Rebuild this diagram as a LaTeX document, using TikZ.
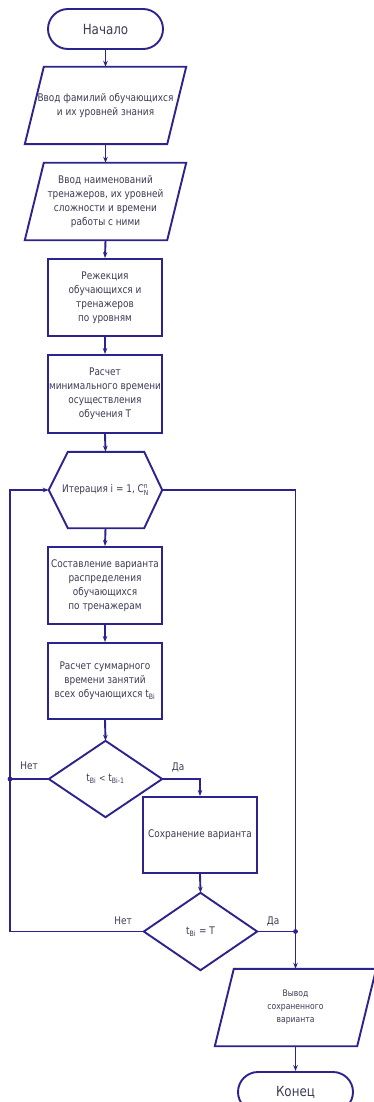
\documentclass[tikz,border=0pt]{standalone}
\usepackage{fontspec}
\setmainfont[FakeStretch=0.85]{DejaVu Sans}
\usetikzlibrary{arrows.meta,calc}
\definecolor{ln}{RGB}{45,35,140}
\definecolor{tx}{RGB}{60,60,85}
\newcommand{\smallscript}[1]{\mbox{\fontsize{7}{7}\selectfont #1}}
\begin{document}
\begin{tikzpicture}[x=1pt,y=-1pt,
  line/.style={draw=ln, line width=1.9pt},
  arr/.style={line, -{Stealth[length=6pt,width=4.5pt]}},
  box/.style={line, rectangle, minimum width=114pt, minimum height=77pt, inner sep=1pt, align=center, text=tx, font=\fontsize{10.5}{14}\selectfont},
  ghost/.style n args={2}{rectangle, minimum width=#1, minimum height=#2, inner sep=0pt, align=center, text=tx, font=\fontsize{10.5}{14}\selectfont},
  term/.style={line, rectangle, rounded corners=20pt, minimum width=115pt, minimum height=40pt, inner sep=0pt, text=tx, font=\fontsize{14}{16}\selectfont},
  lbl/.style={text=tx, font=\fontsize{10.5}{12}\selectfont, inner sep=0pt}]
\useasboundingbox (0,0) rectangle (373,1102);
\fill[white] (0,0) rectangle (373,1102);

% nodes
\node[term] (start) at (105.5,29) {Начало};

\node[ghost={142pt}{77pt}] (in1) at (105.5,105.5) {Ввод фамилий обучающихся\\и их уровней знания};
\draw[line] ([xshift=-9.5pt]in1.south west) -- ([xshift=9.5pt]in1.north west) -- ([xshift=9.5pt]in1.north east) -- ([xshift=-9.5pt]in1.south east) -- cycle;

\node[ghost={142pt}{77pt}] (in2) at (105.5,201.5) {Ввод наименований\\тренажеров, их уровней\\сложности и времени\\работы с ними};
\draw[line] ([xshift=-9.5pt]in2.south west) -- ([xshift=9.5pt]in2.north west) -- ([xshift=9.5pt]in2.north east) -- ([xshift=-9.5pt]in2.south east) -- cycle;

\node[box] (r1) at (105,297.5) {Режекция\\обучающихся и\\тренажеров\\по уровням};
\node[box, minimum height=78pt] (r2) at (105,394) {Расчет\\минимального времени\\осуществления\\обучения Т};

\node[ghost={113pt}{76pt}] (hex) at (105.5,490) {Итерация i = 1, C$^{\smallscript{n}}_{\smallscript{N}}$};
\draw[line] (hex.west) -- ([xshift=19pt]hex.north west) -- ([xshift=-18pt]hex.north east) -- (hex.east) -- ([xshift=-18pt]hex.south east) -- ([xshift=19pt]hex.south west) -- cycle;

\node[box] (r3) at (105,585.5) {Составление варианта\\распределения\\обучающихся\\по тренажерам};
\node[box, minimum height=76pt] (r4) at (105,681) {Расчет суммарного\\времени занятий\\всех обучающихся t\textsubscript{Вi}};

\node[ghost={113pt}{76pt}] (d1) at (105.5,779) {t\textsubscript{Вi} {\small <} t\textsubscript{Вi-1}};
\draw[line] (d1.north) -- (d1.east) -- (d1.south) -- (d1.west) -- cycle;

\node[box, minimum height=76pt] (r5) at (200,835) {Сохранение варианта};

\node[ghost={113pt}{77pt}] (d2) at (200.5,931.5) {t\textsubscript{Вi} = Т};
\draw[line] (d2.north) -- (d2.east) -- (d2.south) -- (d2.west) -- cycle;

\node[ghost={142pt}{77pt}, font=\fontsize{9}{13}\selectfont] (out) at (295.5,1007.5) {Вывод\\сохраненного\\варианта};
\draw[line] ([xshift=-9.5pt]out.south west) -- ([xshift=9.5pt]out.north west) -- ([xshift=9.5pt]out.north east) -- ([xshift=-9.5pt]out.south east) -- cycle;

\node[term] (end) at (295.5,1092) {Конец};

% coordinates
\coordinate (jn1) at (10,779);
\coordinate (lb) at (10,931.5);
\coordinate (lt) at (10,490);
\coordinate (rt) at (295.5,490);
\coordinate (jn2) at (295.5,931.5);

% connectors
\draw[arr] (start.south) -- (in1.north);
\draw[arr] (in1.south) -- (in2.north);
\draw[arr] (in2.south) -- (r1.north);
\draw[arr] (r1.south) -- (r2.north);
\draw[arr] (r2.south) -- (hex.north);
\draw[arr] (hex.south) -- (r3.north);
\draw[arr] (r3.south) -- (r4.north);
\draw[arr] (r4.south) -- (d1.north);
\draw[arr] (d1.east) -| (r5.north);
\draw[line] (d1.west) -- (jn1);
\draw[arr] (r5.south) -- (d2.north);
\draw[arr] (d2.west) -- (lb) -- (lt) -- (hex.west);
\draw[arr] (hex.east) -- (rt) -- (out.north);
\draw[line] (d2.east) -- (jn2);
\draw[arr] (out.south) -- (end.north);
\fill[ln] (jn1) circle (2.4pt);
\fill[ln] (jn2) circle (2.4pt);

% labels
\node[lbl] (l1) at (29,766) {Нет};
\node[lbl] (l2) at (178,767) {Да};
\node[lbl] (l3) at (123,921) {Нет};
\node[lbl] (l4) at (273,921) {Да};
\end{tikzpicture}
\end{document}
